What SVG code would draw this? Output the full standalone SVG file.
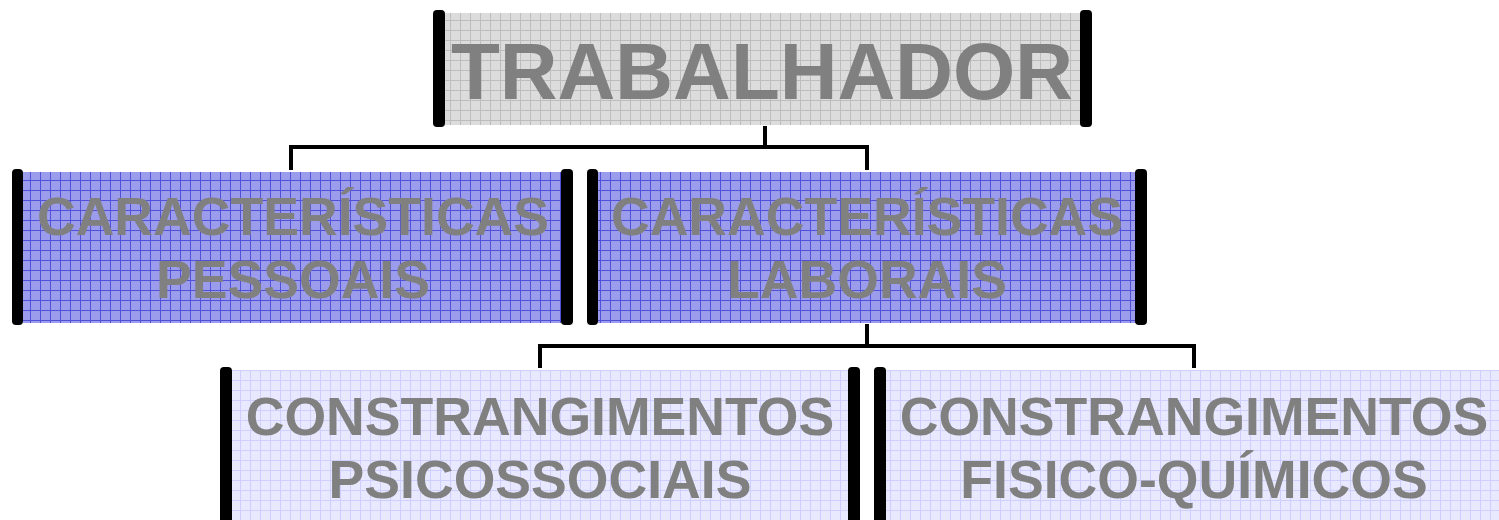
<svg xmlns="http://www.w3.org/2000/svg" width="1499" height="520" viewBox="0 0 1499 520">
<defs>
<pattern id="pGray" width="10" height="10" patternUnits="userSpaceOnUse">
<rect width="10" height="10" fill="#dcdcdc"/>
<path d="M0 0.5H10M0.5 0V10" stroke="#bdbdbd" stroke-width="1"/>
</pattern>
<pattern id="pBlue" width="10" height="10" patternUnits="userSpaceOnUse">
<rect width="10" height="10" fill="#9c9cec"/>
<path d="M0 0.5H10M0.5 0V10" stroke="#5050d8" stroke-width="1"/>
</pattern>
<pattern id="pLight" width="10" height="10" patternUnits="userSpaceOnUse">
<rect width="10" height="10" fill="#e8e8ff"/>
<path d="M0 0.5H10M0.5 0V10" stroke="#cfcfff" stroke-width="1"/>
</pattern>
</defs>
<style>
.bar{fill:#000}
.t{font-family:"Liberation Sans",Arial,sans-serif;font-weight:bold;fill:#808080;text-anchor:middle}
.conn{fill:none;stroke:#000;stroke-width:4}
</style>
<rect width="1499" height="520" fill="#fff"/>
<g id="connectors">
<path class="conn" d="M765 126V147M291 170V147H867V170"/>
<path class="conn" d="M867 324V346M540 368V346H1194V368"/>
</g>
<g id="trabalhador">
<rect x="445" y="13" width="636" height="112" fill="url(#pGray)"/>
<rect class="bar" x="433" y="10" width="12" height="117" rx="4"/>
<rect class="bar" x="1080" y="10" width="12" height="117" rx="4"/>
<text class="t" x="762" y="99" font-size="80">TRABALHADOR</text>
</g>
<g id="pessoais">
<rect x="23" y="172" width="539" height="151" fill="url(#pBlue)"/>
<rect class="bar" x="12" y="169" width="11" height="156" rx="4"/>
<rect class="bar" x="561" y="169" width="12" height="156" rx="4"/>
<text class="t" x="293" y="235" font-size="53.6">CARACTERÍSTICAS</text>
<text class="t" x="293" y="298" font-size="53.6">PESSOAIS</text>
</g>
<g id="laborais">
<rect x="598" y="172" width="538" height="151" fill="url(#pBlue)"/>
<rect class="bar" x="587" y="169" width="11" height="156" rx="4"/>
<rect class="bar" x="1135" y="169" width="12" height="156" rx="4"/>
<text class="t" x="867" y="235" font-size="53.6">CARACTERÍSTICAS</text>
<text class="t" x="867" y="298" font-size="53.6">LABORAIS</text>
</g>
<g id="psicossociais">
<rect x="232" y="370" width="617" height="150" fill="url(#pLight)"/>
<rect class="bar" x="220" y="367" width="12" height="160" rx="4"/>
<rect class="bar" x="848" y="367" width="12" height="160" rx="4"/>
<text class="t" x="540" y="435" font-size="53.6">CONSTRANGIMENTOS</text>
<text class="t" x="540" y="498" font-size="53.6">PSICOSSOCIAIS</text>
</g>
<g id="fisicoquimicos">
<rect x="886" y="370" width="613" height="150" fill="url(#pLight)"/>
<rect class="bar" x="874" y="367" width="12" height="160" rx="4"/>
<text class="t" x="1194" y="435" font-size="53.6">CONSTRANGIMENTOS</text>
<text class="t" x="1194" y="498" font-size="53.6">FISICO-QUÍMICOS</text>
</g>
</svg>
